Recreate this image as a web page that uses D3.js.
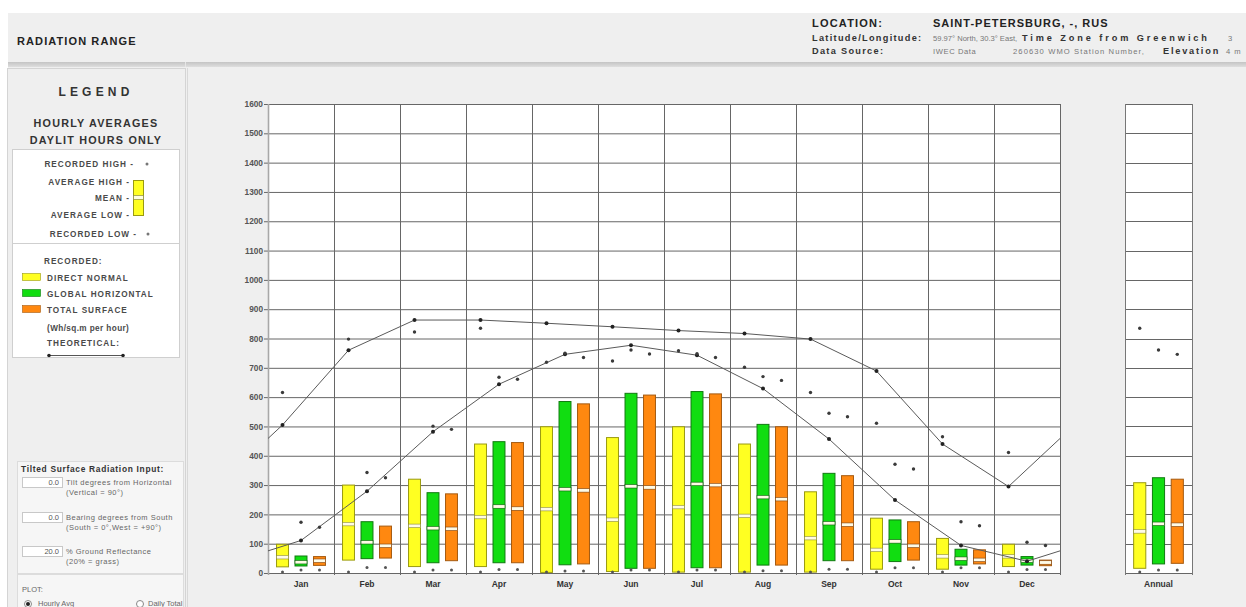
<!DOCTYPE html>
<html>
<head>
<meta charset="utf-8">
<script src="https://cdn.jsdelivr.net/npm/d3@7"></script>
<style>
  html, body { margin: 0; padding: 0; background: #ffffff; }
  svg { display: block; font-family: "Liberation Sans", Arial, sans-serif; }
</style>
</head>
<body>
<svg id="chart" width="1246" height="607"></svg>
<script>
// ---- Data: hourly averages, daylit hours only (Wh/sq.m per hour) ----
const months = ["Jan", "Feb", "Mar", "Apr", "May", "Jun", "Jul", "Aug", "Sep", "Oct", "Nov", "Dec"];
const yTickValues = [0, 100, 200, 300, 400, 500, 600, 700, 800, 900, 1000, 1100, 1200, 1300, 1400, 1500, 1600];

// Direct normal
const dnRecHigh = [616, 798, 822, 835, 719, 723, 758, 702, 616, 511, 465, 411];
const dnAvgHigh = [98, 300, 320, 440, 499, 462, 499, 440, 277, 187, 118, 98];
const dnMean    = [53, 166, 160, 190, 217, 181, 224, 194, 118, 78, 56, 56];
const dnAvgLow  = [21, 44, 22, 22, 2, 5, 3, 3, 3, 13, 13, 22];
const dnRecLow  = [1, 1, 1, 1, 0, 0, 0, 0, 0, 1, 1, 1];

// Global horizontal
const ghRecHigh = [173, 343, 501, 668, 750, 761, 748, 670, 545, 371, 175, 105];
const ghAvgHigh = [58, 175, 274, 448, 585, 613, 619, 507, 340, 181, 81, 56];
const ghMean    = [36, 104, 152, 226, 285, 295, 303, 258, 169, 107, 48, 41];
const ghAvgLow  = [24, 49, 35, 35, 28, 16, 18, 27, 42, 39, 27, 27];
const ghRecLow  = [10, 19, 10, 12, 7, 10, 10, 8, 13, 18, 18, 12];

// Total surface
const tsRecHigh = [156, 325, 490, 661, 735, 747, 735, 657, 533, 355, 161, 94];
const tsAvgHigh = [56, 160, 270, 445, 577, 607, 611, 499, 332, 175, 79, 44];
const tsMean    = [41, 92, 150, 219, 281, 291, 299, 251, 164, 92, 44, 35];
const tsAvgLow  = [26, 51, 42, 35, 31, 16, 18, 27, 42, 44, 31, 25];
const tsRecLow  = [10, 19, 10, 12, 7, 10, 10, 8, 13, 18, 18, 12];

// Theoretical clear-sky values
const dnTheoretical = [505, 760, 863, 863, 852, 840, 827, 817, 798, 689, 440, 295];
const ghTheoretical = [111, 279, 482, 644, 746, 777, 743, 629, 457, 249, 94, 40];

// Annual summary: [recorded high, average high, mean, average low, recorded low]
const annualLabel = ["Annual"];
const annualDN = [835, 308, 141, 16, 0];
const annualGH = [761, 325, 167, 31, 10];
const annualTS = [746, 320, 164, 33, 10];

const seriesKeys = ["dn", "gh", "ts"];

// ---- Styles ----
const seriesStyle = {
  dn: { fill: "#ffff22", stroke: "#9a9a10", meanStroke: "#8a8a40" },
  gh: { fill: "#11dd11", stroke: "#107a10", meanStroke: "#0d5a0d" },
  ts: { fill: "#ff8810", stroke: "#a55a10", meanStroke: "#7a4010" }
};
const legendText = { size: 8.2, weight: "bold", fill: "#4a4a4a", spacing: 1.0 };

const svg = d3.select("#chart");

// ---- Page frame ----
svg.append("rect").attr("x", 0).attr("y", 0).attr("width", 1246).attr("height", 607).attr("fill", "#ffffff");
svg.append("rect").attr("x", 8).attr("y", 13).attr("width", 1238).attr("height", 50).attr("fill", "#efefef");
const defs = svg.append("defs");
const hg = defs.append("linearGradient").attr("id", "hdrEdge").attr("x1", 0).attr("x2", 0).attr("y1", 0).attr("y2", 1);
hg.append("stop").attr("offset", "0%").attr("stop-color", "#c4c4c4");
hg.append("stop").attr("offset", "100%").attr("stop-color", "#dedede");
svg.append("rect").attr("x", 8).attr("y", 62).attr("width", 1238).attr("height", 5).attr("fill", "url(#hdrEdge)");
svg.append("line").attr("x1", 185.5).attr("x2", 185.5).attr("y1", 62).attr("y2", 67).attr("stroke", "#e6e6e6");
svg.append("rect").attr("x", 8).attr("y", 67).attr("width", 1238).attr("height", 540).attr("fill", "#efefef");

// Header text
svg.append("text").attr("x", 17).attr("y", 45).attr("font-size", 11).attr("font-weight", "bold")
  .attr("letter-spacing", 1.1).attr("fill", "#222").text("RADIATION RANGE");

svg.append("text").attr("x", 812).attr("y", 27).attr("font-size", 11).attr("font-weight", "bold")
  .attr("letter-spacing", 1.2).attr("fill", "#222").text("LOCATION:");
svg.append("text").attr("x", 933).attr("y", 27).attr("font-size", 11).attr("font-weight", "bold")
  .attr("letter-spacing", 1.0).attr("fill", "#222").text("SAINT-PETERSBURG, -, RUS");

// Detail lines: bold captions, grey values
const detailLines = [
  { y: 41, parts: [
    { x: 812, t: "Latitude/Longitude:", b: true, ls: 1.3 },
    { x: 933, t: "59.97° North, 30.3° East,", b: false, ls: 0 },
    { x: 1022, t: "Time Zone from Greenwich", b: true, ls: 2.9 },
    { x: 1228, t: "3", b: false, ls: 0 }
  ]},
  { y: 54, parts: [
    { x: 812, t: "Data Source:", b: true, ls: 1.3 },
    { x: 933, t: "IWEC Data", b: false, ls: 0.6 },
    { x: 1013, t: "260630 WMO Station Number,", b: false, ls: 1.1 },
    { x: 1163, t: "Elevation", b: true, ls: 1.8 },
    { x: 1226, t: "4 m", b: false, ls: 1.0 }
  ]}
];
detailLines.forEach(row => {
  svg.append("g").selectAll("text").data(row.parts).join("text")
    .attr("x", d => d.x).attr("y", row.y)
    .attr("font-size", d => d.b ? 9.2 : 7.6)
    .attr("font-weight", d => d.b ? "bold" : "normal")
    .attr("fill", d => d.b ? "#333" : "#777")
    .attr("letter-spacing", d => d.ls)
    .text(d => d.t);
});

// ---- Left panel (legend + inputs) ----
svg.append("rect").attr("x", 7.5).attr("y", 68.5).attr("width", 178).attr("height", 540)
  .attr("fill", "#efefef").attr("stroke", "#d4d4d4");
svg.append("line").attr("x1", 187.5).attr("x2", 187.5).attr("y1", 68).attr("y2", 607).attr("stroke", "#d8d8d8");

svg.append("text").attr("x", 96).attr("y", 96).attr("text-anchor", "middle").attr("font-size", 12)
  .attr("font-weight", "bold").attr("letter-spacing", 4.2).attr("fill", "#333").text("LEGEND");
svg.append("text").attr("x", 96).attr("y", 127).attr("text-anchor", "middle").attr("font-size", 10.8)
  .attr("font-weight", "bold").attr("letter-spacing", 1.2).attr("fill", "#333").text("HOURLY AVERAGES");
svg.append("text").attr("x", 96).attr("y", 144).attr("text-anchor", "middle").attr("font-size", 10.8)
  .attr("font-weight", "bold").attr("letter-spacing", 1.2).attr("fill", "#333").text("DAYLIT HOURS ONLY");

svg.append("rect").attr("x", 12.5).attr("y", 149.5).attr("width", 167).attr("height", 208)
  .attr("fill", "#ffffff").attr("stroke", "#cfcfcf");
svg.append("line").attr("x1", 12.5).attr("x2", 179.5).attr("y1", 243.5).attr("y2", 243.5).attr("stroke", "#cfcfcf");

function styleLegend(sel) {
  return sel.attr("font-size", legendText.size).attr("font-weight", legendText.weight)
    .attr("fill", legendText.fill).attr("letter-spacing", legendText.spacing);
}

const legendRows = [
  { t: "RECORDED HIGH -", y: 167, x: 134 },
  { t: "AVERAGE HIGH -", y: 185, x: 130 },
  { t: "MEAN -", y: 201, x: 130 },
  { t: "AVERAGE LOW -", y: 218, x: 130 },
  { t: "RECORDED LOW -", y: 237, x: 137 }
];
styleLegend(svg.append("g").selectAll("text").data(legendRows).join("text")
  .attr("x", d => d.x).attr("y", d => d.y).attr("text-anchor", "end")).text(d => d.t);
svg.append("circle").attr("cx", 147).attr("cy", 164).attr("r", 1.5).attr("fill", "#777");
svg.append("circle").attr("cx", 148).attr("cy", 234).attr("r", 1.5).attr("fill", "#777");
svg.append("rect").attr("x", 133.5).attr("y", 180.5).attr("width", 10).attr("height", 35)
  .attr("fill", seriesStyle.dn.fill).attr("stroke", seriesStyle.dn.stroke);
svg.append("rect").attr("x", 133.5).attr("y", 195.5).attr("width", 10).attr("height", 4)
  .attr("fill", "#ffffe0").attr("stroke", seriesStyle.dn.meanStroke).attr("stroke-width", 0.7);

styleLegend(svg.append("text").attr("x", 44).attr("y", 264)).text("RECORDED:");
const legendSeries = [
  { k: "dn", t: "DIRECT NORMAL", y: 273 },
  { k: "gh", t: "GLOBAL HORIZONTAL", y: 289 },
  { k: "ts", t: "TOTAL SURFACE", y: 305 }
];
const ls = svg.append("g").selectAll("g").data(legendSeries).join("g");
ls.append("rect").attr("x", 22.5).attr("y", d => d.y + 0.5).attr("width", 18).attr("height", 7)
  .attr("fill", d => seriesStyle[d.k].fill).attr("stroke", d => seriesStyle[d.k].stroke).attr("stroke-width", 0.6);
styleLegend(ls.append("text").attr("x", 47).attr("y", d => d.y + 8)).text(d => d.t);
styleLegend(svg.append("text").attr("x", 47).attr("y", 331)).attr("letter-spacing", 0.4).text("(Wh/sq.m per hour)");
styleLegend(svg.append("text").attr("x", 47).attr("y", 346)).text("THEORETICAL:");
svg.append("line").attr("x1", 48).attr("x2", 124).attr("y1", 355.5).attr("y2", 355.5).attr("stroke", "#555");
svg.append("circle").attr("cx", 49).attr("cy", 355.5).attr("r", 1.8).attr("fill", "#222");
svg.append("circle").attr("cx", 123).attr("cy", 355.5).attr("r", 1.8).attr("fill", "#222");

// Tilted surface inputs
svg.append("rect").attr("x", 17.5).attr("y", 461.5).attr("width", 166).attr("height", 112)
  .attr("fill", "#f6f6f6").attr("stroke", "#dcdcdc");
svg.append("text").attr("x", 21).attr("y", 472).attr("font-size", 8.4).attr("font-weight", "bold")
  .attr("letter-spacing", 0.7).attr("fill", "#333").text("Tilted Surface Radiation Input:");
const inputs = [
  { v: "0.0", a: "Tilt degrees from Horizontal", b: "(Vertical = 90°)", y: 477 },
  { v: "0.0", a: "Bearing degrees from South", b: "(South = 0°,West = +90°)", y: 512 },
  { v: "20.0", a: "% Ground Reflectance", b: "(20% = grass)", y: 546 }
];
const ig = svg.append("g").selectAll("g").data(inputs).join("g");
ig.append("rect").attr("x", 22.5).attr("y", d => d.y + 0.5).attr("width", 40).attr("height", 10)
  .attr("fill", "#ffffff").attr("stroke", "#c8c8c8");
ig.append("text").attr("x", 59).attr("y", d => d.y + 8).attr("text-anchor", "end").attr("font-size", 7.5)
  .attr("fill", "#555").text(d => d.v);
ig.append("text").attr("x", 66).attr("y", d => d.y + 8).attr("font-size", 7.5).attr("letter-spacing", 0.5)
  .attr("fill", "#666").text(d => d.a);
ig.append("text").attr("x", 66).attr("y", d => d.y + 18).attr("font-size", 7.5).attr("letter-spacing", 0.5)
  .attr("fill", "#666").text(d => d.b);

svg.append("rect").attr("x", 17.5).attr("y", 574.5).attr("width", 166).attr("height", 40)
  .attr("fill", "#f6f6f6").attr("stroke", "#dcdcdc");
svg.append("text").attr("x", 22).attr("y", 592).attr("font-size", 7.5).attr("fill", "#666").text("PLOT:");
svg.append("circle").attr("cx", 28).attr("cy", 604).attr("r", 3.5).attr("fill", "#fff").attr("stroke", "#888");
svg.append("circle").attr("cx", 28).attr("cy", 604).attr("r", 2).attr("fill", "#222");
svg.append("text").attr("x", 38).attr("y", 606).attr("font-size", 7.5).attr("fill", "#666").text("Hourly Avg");
svg.append("circle").attr("cx", 140).attr("cy", 604).attr("r", 3.5).attr("fill", "#fff").attr("stroke", "#888");
svg.append("text").attr("x", 148).attr("y", 606).attr("font-size", 7.5).attr("fill", "#666").text("Daily Total");

// ---- Scales ----
const x = d3.scaleBand().domain(months).range([268, 1060]).paddingInner(0).paddingOuter(0);
const xSub = d3.scaleBand().domain(seriesKeys).range([0, x.bandwidth()]).paddingInner(0.3).paddingOuter(0.434);
const xAnnual = d3.scaleBand().domain(annualLabel).range([1125, 1192]);
const xSubA = d3.scaleBand().domain(seriesKeys).range([0, xAnnual.bandwidth()]).paddingInner(0.3).paddingOuter(0.434);
const y = d3.scaleLinear().domain([0, 1600]).range([573, 104]);

const [x0, x1] = x.range();
const [yBottom, yTop] = y.range();

// ---- Plot backgrounds ----
svg.append("rect").attr("x", x0).attr("y", yTop).attr("width", x1 - x0).attr("height", yBottom - yTop).attr("fill", "#ffffff");
const [a0, a1] = xAnnual.range();
svg.append("rect").attr("x", a0).attr("y", yTop).attr("width", a1 - a0).attr("height", yBottom - yTop).attr("fill", "#ffffff");

// Y axis with horizontal grid
const yAxis = svg.append("g").attr("transform", `translate(${x0},0)`)
  .call(d3.axisLeft(y).tickValues(yTickValues).tickFormat(d3.format("d")).tickSize(-(x1 - x0)).tickPadding(5));
yAxis.select(".domain").remove();
yAxis.selectAll(".tick line").attr("x1", -4).attr("stroke", "#666");
yAxis.selectAll(".tick text").attr("font-size", 8.3).attr("font-weight", "bold").attr("fill", "#555")
  .attr("font-family", "'Liberation Sans', Arial, sans-serif");

// Annual grid
svg.append("g").selectAll("line").data(yTickValues).join("line")
  .attr("x1", a0).attr("x2", a1 + 1)
  .attr("y1", d => Math.round(y(d)) + 0.5).attr("y2", d => Math.round(y(d)) + 0.5)
  .attr("stroke", "#666");
svg.append("g").selectAll("line").data([a0, a1]).join("line")
  .attr("x1", d => d + 0.5).attr("x2", d => d + 0.5).attr("y1", yTop).attr("y2", yBottom + 2)
  .attr("stroke", "#777");

// Vertical month separators
const bounds = months.map(m => x(m)).concat([x1]);
svg.append("g").selectAll("line").data(bounds).join("line")
  .attr("x1", d => Math.round(d) + 0.5).attr("x2", d => Math.round(d) + 0.5)
  .attr("y1", yTop).attr("y2", yBottom + 2)
  .attr("stroke", (d, i) => i === 0 ? "#a8a8a8" : "#666")
  .attr("stroke-width", (d, i) => i === 0 ? 1.6 : 1);

// Month labels
const xAxis = svg.append("g").attr("transform", `translate(0,${yBottom})`)
  .call(d3.axisBottom(x).tickSize(0).tickPadding(8));
xAxis.select(".domain").remove();
xAxis.selectAll(".tick text").attr("font-size", 8.5).attr("font-weight", "bold").attr("fill", "#333")
  .attr("font-family", "'Liberation Sans', Arial, sans-serif");
const aAxis = svg.append("g").attr("transform", `translate(0,${yBottom})`)
  .call(d3.axisBottom(xAnnual).tickSize(0).tickPadding(8));
aAxis.select(".domain").remove();
aAxis.selectAll(".tick text").attr("font-size", 8.5).attr("font-weight", "bold").attr("fill", "#333")
  .attr("font-family", "'Liberation Sans', Arial, sans-serif");

// ---- Build bar records ----
const monthly = {
  dn: { recHigh: dnRecHigh, avgHigh: dnAvgHigh, mean: dnMean, avgLow: dnAvgLow, recLow: dnRecLow },
  gh: { recHigh: ghRecHigh, avgHigh: ghAvgHigh, mean: ghMean, avgLow: ghAvgLow, recLow: ghRecLow },
  ts: { recHigh: tsRecHigh, avgHigh: tsAvgHigh, mean: tsMean, avgLow: tsAvgLow, recLow: tsRecLow }
};
const annual = { dn: annualDN, gh: annualGH, ts: annualTS };

const records = [];
months.forEach((m, i) => {
  seriesKeys.forEach(k => {
    const s = monthly[k];
    records.push({
      k, x: x(m) + xSub(k), w: xSub.bandwidth(),
      recHigh: s.recHigh[i], avgHigh: s.avgHigh[i], mean: s.mean[i], avgLow: s.avgLow[i], recLow: s.recLow[i]
    });
  });
});
seriesKeys.forEach(k => {
  const a = annual[k];
  records.push({
    k, x: xAnnual(annualLabel[0]) + xSubA(k), w: xSubA.bandwidth(),
    recHigh: a[0], avgHigh: a[1], mean: a[2], avgLow: a[3], recLow: a[4]
  });
});

// Bars: average high to average low
const barG = svg.append("g");
barG.selectAll("rect.bar").data(records).join("rect").attr("class", "bar")
  .attr("x", d => d.x + 0.5).attr("y", d => y(d.avgHigh))
  .attr("width", d => d.w - 1).attr("height", d => y(d.avgLow) - y(d.avgHigh))
  .attr("fill", d => seriesStyle[d.k].fill).attr("stroke", d => seriesStyle[d.k].stroke);

// Mean band
barG.selectAll("rect.mean").data(records).join("rect").attr("class", "mean")
  .attr("x", d => d.x + 0.5).attr("y", d => y(d.mean) - 2)
  .attr("width", d => d.w - 1).attr("height", 3.5)
  .attr("fill", "#fffbe6").attr("stroke", d => seriesStyle[d.k].meanStroke).attr("stroke-width", 0.6);

// ---- Theoretical curves ----
const span = x1 - x0;
function theoPoints(values, key) {
  const cx = months.map(m => x(m) + xSub(key) + xSub.bandwidth() / 2);
  const pts = values.map((v, i) => [cx[i], v]);
  return [[cx[11] - span, values[11]]].concat(pts, [[cx[0] + span, values[0]]]);
}
defs.append("clipPath").attr("id", "plotClip").append("rect")
  .attr("x", x0).attr("y", yTop).attr("width", span).attr("height", yBottom - yTop);

const line = d3.line().x(d => d[0]).y(d => y(d[1]));
const theoG = svg.append("g").attr("clip-path", "url(#plotClip)");
[["dn", dnTheoretical], ["gh", ghTheoretical]].forEach(([k, vals]) => {
  const pts = theoPoints(vals, k);
  theoG.append("path").datum(pts).attr("d", line).attr("fill", "none")
    .attr("stroke", "#5a5a5a").attr("stroke-width", 1);
  theoG.selectAll(null).data(pts.slice(1, 13)).join("circle")
    .attr("cx", d => d[0]).attr("cy", d => y(d[1])).attr("r", 2).attr("fill", "#222");
});

// ---- Recorded extremes ----
const dotG = svg.append("g");
dotG.selectAll("circle.hi").data(records).join("circle").attr("class", "hi")
  .attr("cx", d => d.x + d.w / 2).attr("cy", d => y(d.recHigh)).attr("r", 1.7).attr("fill", "#3a3a3a");
dotG.selectAll("circle.lo").data(records).join("circle").attr("class", "lo")
  .attr("cx", d => d.x + d.w / 2).attr("cy", d => Math.min(y(d.recLow), yBottom - 1)).attr("r", 1.5).attr("fill", "#555");
</script>
</body>
</html>
